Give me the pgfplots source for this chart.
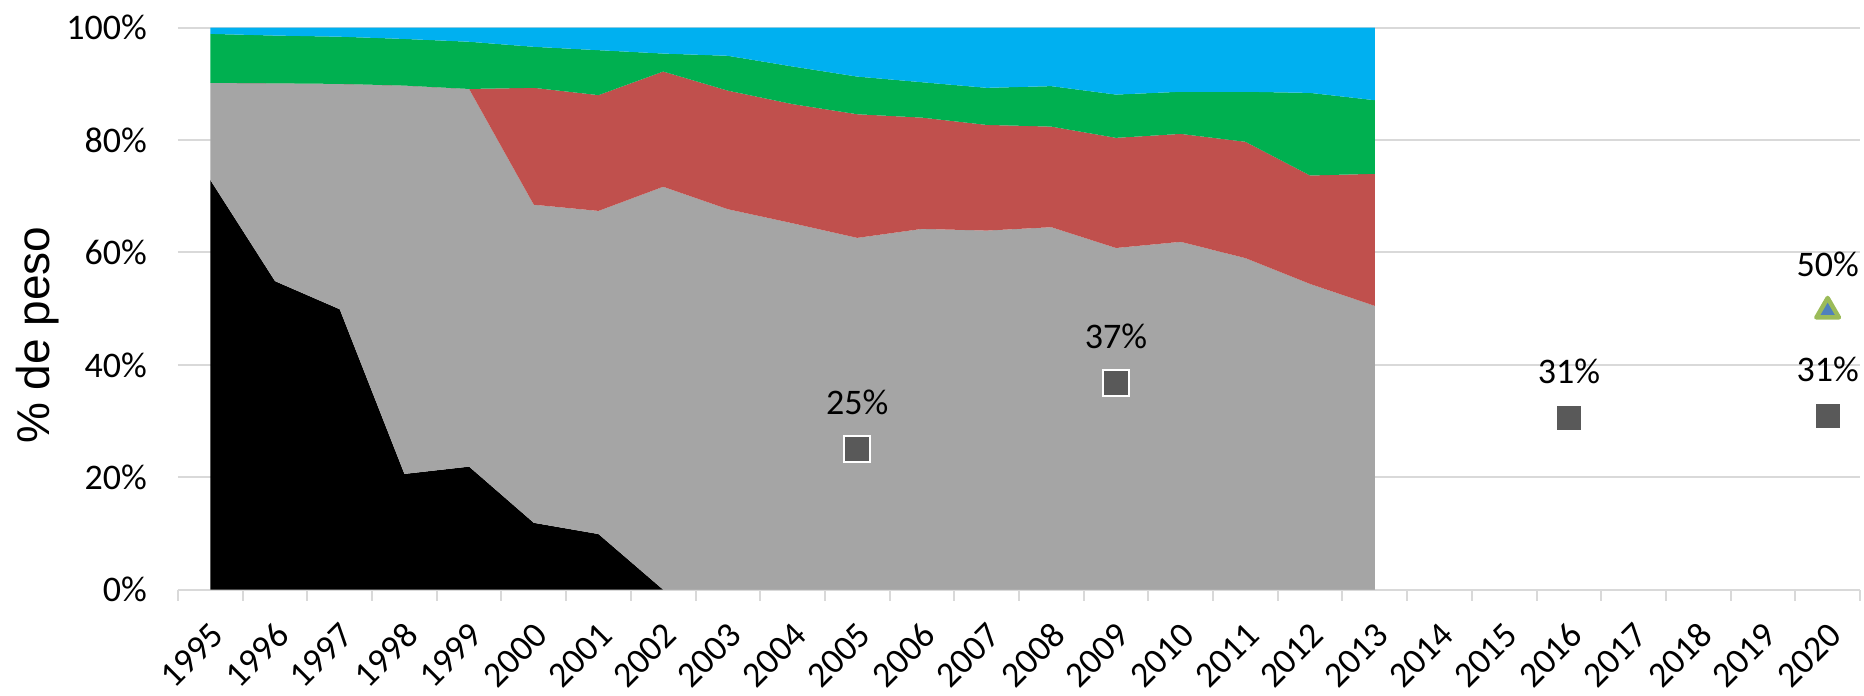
\documentclass[border=0pt]{standalone}
\usepackage{pgfplots}
\pgfplotsset{compat=1.18}
\usepackage{pgfplotstable}
\usepackage{fontspec}
\setmainfont{Carlito}
\newfontfamily\arialfont{Liberation Sans}
\definecolor{cBlue}{HTML}{00B0F0}
\definecolor{cGreen}{HTML}{00B050}
\definecolor{cRed}{HTML}{C0504D}
\definecolor{cGray}{HTML}{A5A5A5}
\definecolor{gridgray}{HTML}{D9D9D9}
\definecolor{markgray}{HTML}{595959}
\definecolor{triblue}{HTML}{4F81BD}
\definecolor{trigreen}{HTML}{9BBB59}

\pgfplotstableread{
x black gray red green blue
0  72.9 17.3 0    8.7  1.1
1  54.9 35.2 0    8.5  1.4
2  49.9 40.1 0    8.4  1.6
3  20.6 69.1 0    8.3  2.0
4  21.9 67.2 0    8.4  2.5
5  11.9 56.6 20.8 7.3  3.4
6  9.9  57.5 20.6 8.0  4.0
7  0    71.7 20.5 3.2  4.6
8  0    67.7 21.1 6.2  5.0
9  0    65.2 21.2 6.7  6.9
10 0    62.6 22.0 6.7  8.7
11 0    64.2 19.8 6.3  9.7
12 0    63.9 18.8 6.6  10.7
13 0    64.5 17.9 7.2  10.4
14 0    60.8 19.6 7.7  11.9
15 0    61.9 19.2 7.5  11.4
16 0    59.0 20.7 8.9  11.4
17 0    54.4 19.3 14.7 11.6
18 0    50.5 23.5 13.1 12.9
}\areadata

\begin{document}
\begin{tikzpicture}
\begin{axis}[
  name=ax, at={(0,0)}, anchor=south west,
  scale only axis, width=841pt, height=281pt,
  xmin=-0.5, xmax=25.5, ymin=0, ymax=100,
  axis x line=bottom, axis y line=left,
  x axis line style={-, draw=gridgray, line width=1pt},
  y axis line style={draw=none},
  xtick={0.14,1.14,...,25.14},
  xticklabels={1995,1996,1997,1998,1999,2000,2001,2002,2003,2004,2005,2006,2007,2008,2009,2010,2011,2012,2013,2014,2015,2016,2017,2018,2019,2020},
  minor xtick={-0.5,0.5,...,25.5},
  major tick length=0pt, minor tick length=5.5pt, tick align=outside,
  minor x tick style={draw=gridgray, line width=1pt},
  ytick={0,20,40,60,80,100},
  yticklabels={0\%,20\%,40\%,60\%,80\%,100\%},
  ymajorgrids, major grid style={draw=gridgray, line width=1pt},
  tick label style={font=\fontsize{18}{20}\selectfont},
  yticklabel style={xshift=-12pt},
  xticklabel shift=19pt,
  xticklabel style={rotate=45, anchor=east, inner sep=1pt},
  ylabel={\arialfont\fontsize{23}{27}\selectfont \% de peso},
  ylabel style={at={(axis description cs:-0.0835,0.4528)}, anchor=center},
]
\addplot[stack plots=y, fill=black, draw=none] table[x=x, y=black] {\areadata} \closedcycle;
\addplot[stack plots=y, fill=cGray, draw=none] table[x=x, y=gray] {\areadata} \closedcycle;
\addplot[stack plots=y, fill=cRed, draw=none] table[x=x, y=red] {\areadata} \closedcycle;
\addplot[stack plots=y, fill=cGreen, draw=none] table[x=x, y=green] {\areadata} \closedcycle;
\addplot[stack plots=y, fill=cBlue, draw=none] table[x=x, y=blue] {\areadata} \closedcycle;

\addplot[only marks, mark=square*, mark size=6.5pt,
  mark options={fill=markgray, draw=white, line width=1pt},
  nodes near coords, point meta=explicit symbolic,
  every node near coord/.append style={font=\fontsize{18}{20}\selectfont, anchor=center, yshift=23.5pt}]
  coordinates {(10,25) [25\%] (14,36.7) [37\%] (21,30.5) [31\%] (25,30.9) [31\%]};

\addplot[only marks, mark=triangle*, mark size=6.5pt,
  mark options={fill=triblue, draw=trigreen, line width=2.2pt, line join=round},
  nodes near coords, point meta=explicit symbolic,
  every node near coord/.append style={font=\fontsize{18}{20}\selectfont, anchor=center, yshift=23.5pt}]
  coordinates {(25,49.6) [50\%]};
\end{axis}
\pgfresetboundingbox
\path ([shift={(-89pt,-52.75pt)}]ax.south west) rectangle ([shift={(2pt,13.85pt)}]ax.north east);
\end{tikzpicture}
\end{document}
